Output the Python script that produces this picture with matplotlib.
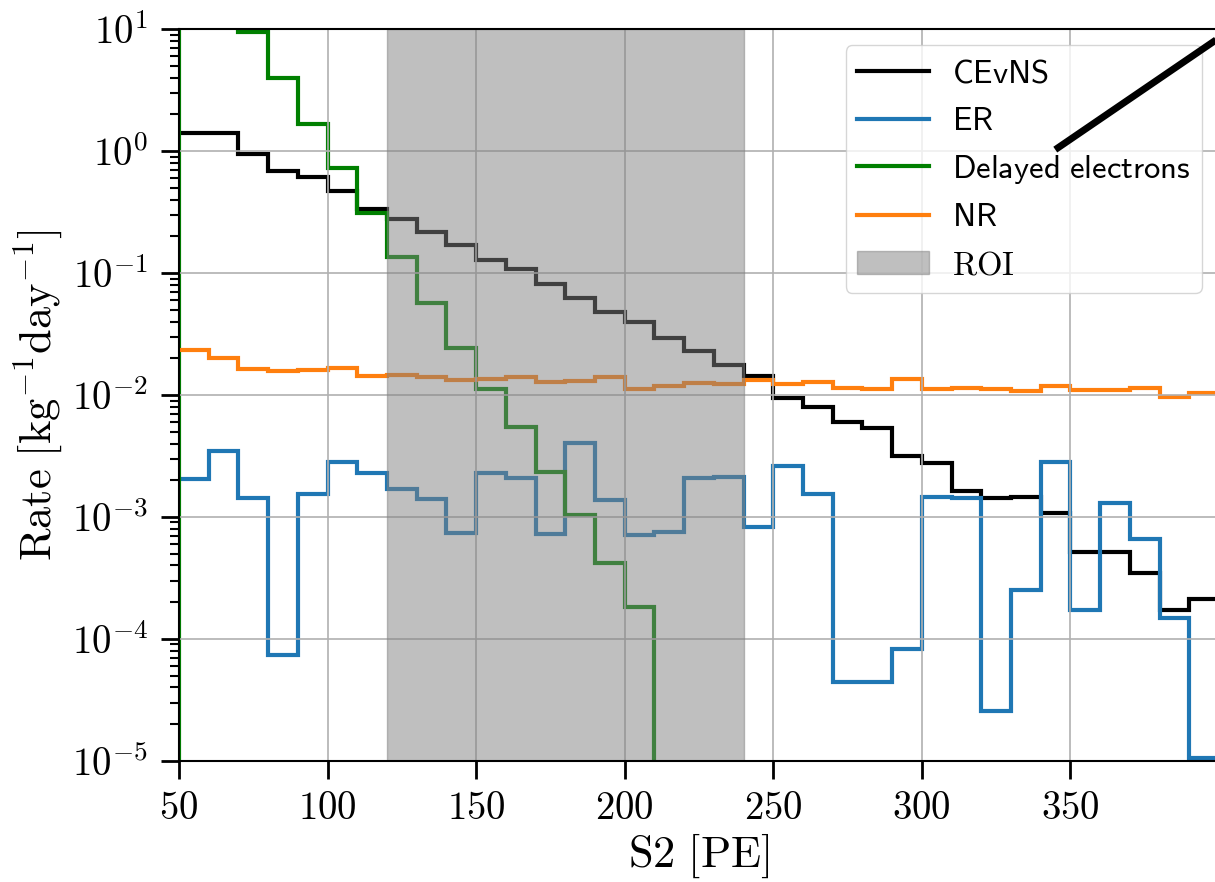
import numpy as np
import matplotlib
matplotlib.use("Agg")
import matplotlib.pyplot as plt
from matplotlib.ticker import FuncFormatter, FixedLocator, NullLocator

plt.rcParams["mathtext.fontset"] = "cm"

# S2 bin edges [PE]
edges = np.arange(50, 410, 10)

cevns = [1.42, 1.42, 0.95, 0.685, 0.61, 0.469, 0.336, 0.279, 0.218, 0.169,
         0.129, 0.108, 0.0813, 0.063, 0.0478, 0.0396, 0.0296, 0.0230, 0.0177, 0.0142,
         0.0094, 0.0079, 0.00597, 0.00533, 0.00318, 0.00278, 0.00164, 0.00142, 0.00146, 0.00107,
         0.000517, 0.000517, 0.000348, 0.000171, 0.000211]

er = [0.00203, 0.00348, 0.00142, 7.3e-5, 0.00153, 0.00284, 0.00231, 0.00171, 0.0014, 0.00074,
      0.00228, 0.00209, 0.00073, 0.00406, 0.00137, 0.000709, 0.000756, 0.00207, 0.00214, 0.00083,
      0.00261, 0.00153, 4.4e-5, 4.4e-5, 8.3e-5, 0.00146, 0.00144, 2.54e-5, 0.000251, 0.00284,
      0.000171, 0.00131, 0.000665, 0.000147, 1.05e-5]

delayed = [40.0, 20.0, 9.5, 4.0, 1.66, 0.73, 0.312, 0.135, 0.0568, 0.0242,
           0.0112, 0.0055, 0.00235, 0.00103, 0.000415, 0.000182, 0, 0, 0, 0,
           0, 0, 0, 0, 0, 0, 0, 0, 0, 0,
           0, 0, 0, 0, 0]

nr = [0.0232, 0.0201, 0.0164, 0.0156, 0.0161, 0.0167, 0.01436, 0.01472, 0.01416, 0.0133,
      0.01355, 0.0140, 0.0129, 0.01305, 0.0140, 0.01117, 0.0119, 0.0125, 0.01227, 0.0133,
      0.0123, 0.0128, 0.0115, 0.01117, 0.01348, 0.0113, 0.0115, 0.01117, 0.0108, 0.0119,
      0.0109, 0.0110, 0.0115, 0.0096, 0.01047]

roi = (120, 240)

x_ticks = [50, 100, 150, 200, 250, 300, 350]
y_exponents = [-5, -4, -3, -2, -1, 0, 1]

fig = plt.figure(figsize=(12.15, 8.82), dpi=100)
ax = fig.add_axes([0.1473, 0.1375, 0.856, 0.8293])

lw = 3
h_cevns = ax.stairs(cevns, edges, baseline=None, color="k", lw=lw)
h_er = ax.stairs(er, edges, baseline=None, color="#1f77b4", lw=lw)
h_del = ax.stairs(delayed, edges, baseline=0, color="green", lw=lw)
h_nr = ax.stairs(nr, edges, baseline=None, color="#ff7f0e", lw=lw)
h_roi = ax.axvspan(*roi, color="gray", alpha=0.5, zorder=2.5)

ax.set_yscale("log")
ax.set_xlim(50, 400)
ax.set_ylim(1e-5, 1e1)

major_y = [10.0 ** e for e in y_exponents]
minor_y = [m * 10.0 ** e for e in y_exponents[:-1] for m in range(2, 10)]

ax.xaxis.set_major_locator(FixedLocator(x_ticks))
ax.xaxis.set_minor_locator(NullLocator())
ax.xaxis.set_major_formatter(FuncFormatter(lambda v, p: r"$%d$" % v))
ax.yaxis.set_major_locator(FixedLocator(major_y))
ax.yaxis.set_minor_locator(FixedLocator(minor_y))
ax.yaxis.set_major_formatter(FuncFormatter(lambda v, p: r"$10^{%d}$" % round(np.log10(v))))
ax.yaxis.set_minor_formatter(FuncFormatter(lambda v, p: ""))

ax.tick_params(which="major", length=13, width=2, labelsize=28, direction="out")
ax.tick_params(axis="y", which="major", pad=9)
ax.tick_params(axis="x", which="major", pad=7)
ax.tick_params(which="minor", length=6.5, width=1.5, direction="out")
for s in ax.spines.values():
    s.set_linewidth(1.5)

ax.grid(True, which="major", color="#b0b0b0", lw=1.2)

ax.set_xlabel(r"$\mathrm{S2\ [PE]}$", fontsize=32, labelpad=4)
ax.set_ylabel(r"$\mathrm{Rate\ [kg^{-1}day^{-1}]}$", fontsize=32, labelpad=6)

leg = ax.legend([h_cevns, h_er, h_del, h_nr, h_roi],
                [r"$\mathsf{CEvNS}$", r"$\mathsf{ER}$", r"$\mathsf{Delayed\ electrons}$",
                 r"$\mathsf{NR}$", r"$\mathrm{ROI}$"],
                loc="upper right", bbox_to_anchor=(1201.7 / 1215, 1 - 45 / 882),
                bbox_transform=fig.transFigure, borderaxespad=0,
                fontsize=23.5, handlelength=2.2, handletextpad=0.7, labelspacing=0.45,
                borderpad=0.35, fancybox=True, framealpha=0.8)
for line in leg.get_lines():
    line.set_linewidth(lw)

# stray leader line drawn across the legend
ax.plot([344.9, 402.9], [1.03, 9.5], color="k", lw=5, clip_on=False, zorder=10,
        solid_capstyle="butt")

fig.savefig("out.png", dpi=100)
